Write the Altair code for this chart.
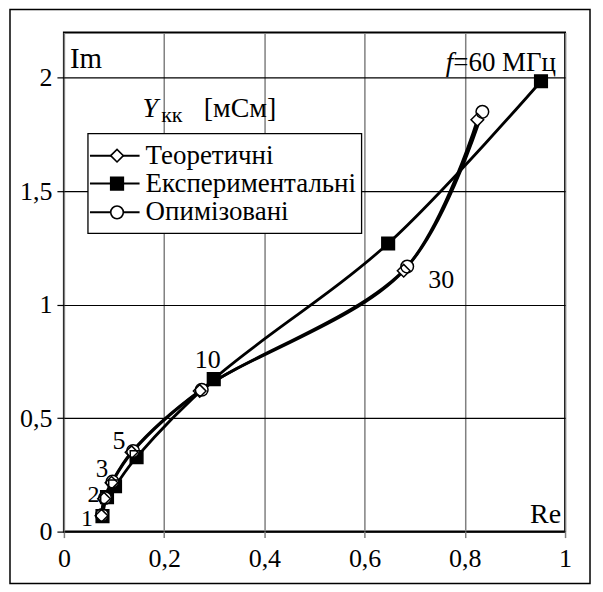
import altair as alt
import pandas as pd

# ---- data ----
freq = [1, 2, 3, 5, 10, 30, 60]
series = ["Теоретичні", "Експериментальні", "Опимізовані"]

theor_re = [0.075, 0.080, 0.095, 0.135, 0.271, 0.678, 0.825]
theor_im = [0.070, 0.145, 0.215, 0.350, 0.620, 1.150, 1.815]
exp_re = [0.077, 0.086, 0.102, 0.145, 0.299, 0.647, 0.952]
exp_im = [0.068, 0.152, 0.200, 0.328, 0.672, 1.270, 1.985]
opt_re = [0.076, 0.082, 0.097, 0.138, 0.275, 0.685, 0.835]
opt_im = [0.073, 0.148, 0.220, 0.355, 0.625, 1.168, 1.850]

x_ticks = [0, 0.2, 0.4, 0.6, 0.8, 1]
y_ticks = [0, 0.5, 1, 1.5, 2]

# point labels (frequency, MHz) and where they sit
pt_labels = ["1", "2", "3", "5", "10", "30"]
pt_label_re = [0.046, 0.059, 0.076, 0.110, 0.287, 0.753]
pt_label_im = [0.056, 0.162, 0.275, 0.400, 0.756, 1.108]
pt_label_fs = [24, 24, 25, 26, 26, 26]

# legend rows
leg_im = [1.657, 1.534, 1.407]

FONT = "Times New Roman, Liberation Serif, DejaVu Serif, serif"
FS = 26

rows = []
for s, xs_, ys_ in [(series[0], theor_re, theor_im), (series[1], exp_re, exp_im), (series[2], opt_re, opt_im)]:
    for i, (f, a, b) in enumerate(zip(freq, xs_, ys_)):
        rows.append({"series": s, "f": f, "idx": i, "re": a, "im": b})
df = pd.DataFrame(rows)

xs = alt.Scale(domain=[0, 1], nice=False, zero=False)
ys = alt.Scale(domain=[0, 2.2], nice=False, zero=False)
shape_scale = alt.Scale(domain=series, range=["diamond", "square", "circle"])
fill_scale = alt.Scale(domain=series, range=["white", "black", "white"])

label_expr = "replace(format(datum.value, '~g'), '.', ',')"

x_enc = alt.X("re:Q", scale=xs, axis=alt.Axis(
    values=x_ticks, title=None, labelExpr=label_expr, grid=True,
    gridColor="#808080", gridWidth=1.5, tickColor="#808080", tickWidth=1.5,
    tickSize=6, domain=False, labelFont=FONT, labelFontSize=FS,
    labelColor="black", labelPadding=8, labelFlush=False))
y_enc = alt.Y("im:Q", scale=ys, axis=alt.Axis(
    values=y_ticks, title=None, labelExpr=label_expr, grid=True,
    gridColor="black", gridWidth=1.2, tickColor="black", tickWidth=1.2,
    tickSize=7, domain=False, labelFont=FONT, labelFontSize=FS,
    labelColor="black", labelPadding=5, labelFlush=False))

lines = alt.Chart(df).mark_line(interpolate="catmull-rom", strokeWidth=2.8, color="black").encode(
    x=x_enc, y=y_enc, detail="series:N", order="idx:Q")

# marker bodies (white / black fill), then all outlines on top
points_fill = alt.Chart(df).mark_point(size=160, strokeWidth=0, opacity=1, fillOpacity=1).encode(
    x=alt.X("re:Q", scale=xs), y=alt.Y("im:Q", scale=ys),
    shape=alt.Shape("series:N", scale=shape_scale, legend=None),
    fill=alt.Fill("series:N", scale=fill_scale, legend=None))
points_line = alt.Chart(df).mark_point(size=160, stroke="black", strokeWidth=1.5, filled=False, opacity=1).encode(
    x=alt.X("re:Q", scale=xs), y=alt.Y("im:Q", scale=ys),
    shape=alt.Shape("series:N", scale=shape_scale, legend=None))

lab_df = pd.DataFrame({"t": pt_labels, "re": pt_label_re, "im": pt_label_im, "fs": pt_label_fs})
pt_text = alt.Chart(lab_df).mark_text(font=FONT, color="black", align="center", baseline="middle").encode(
    x=alt.X("re:Q", scale=xs), y=alt.Y("im:Q", scale=ys), text="t:N",
    size=alt.Size("fs:Q", scale=None, legend=None))

# axis names and annotations
ann_df = pd.DataFrame({
    "t": ["Im", "Re", "=60 МГц", "[мСм]"],
    "re": [0.012, 0.992, 0.982, 0.279],
    "im": [2.044, 0.040, 2.030, 1.829],
    "al": ["left", "right", "right", "left"],
    "fs": [29, 28, 27, 28],
})
ann_left = alt.Chart(ann_df[ann_df.al == "left"]).mark_text(font=FONT, color="black", align="left", baseline="alphabetic").encode(
    x=alt.X("re:Q", scale=xs), y=alt.Y("im:Q", scale=ys), text="t:N",
    size=alt.Size("fs:Q", scale=None, legend=None))
ann_right = alt.Chart(ann_df[ann_df.al == "right"]).mark_text(font=FONT, color="black", align="right", baseline="alphabetic").encode(
    x=alt.X("re:Q", scale=xs), y=alt.Y("im:Q", scale=ys), text="t:N",
    size=alt.Size("fs:Q", scale=None, legend=None))

ital_df = pd.DataFrame({"t": ["f", "Y"], "re": [0.762, 0.157], "im": [2.030, 1.829], "fs": [27, 28]})
ann_ital = alt.Chart(ital_df).mark_text(font=FONT, fontStyle="italic", color="black", align="left", baseline="alphabetic").encode(
    x=alt.X("re:Q", scale=xs), y=alt.Y("im:Q", scale=ys), text="t:N",
    size=alt.Size("fs:Q", scale=None, legend=None))
sub_df = pd.DataFrame({"t": ["кк"], "re": [0.194], "im": [1.805]})
ann_sub = alt.Chart(sub_df).mark_text(font=FONT, fontSize=22, color="black", align="left", baseline="alphabetic").encode(
    x=alt.X("re:Q", scale=xs), y=alt.Y("im:Q", scale=ys), text="t:N")

# legend drawn in data coordinates
box_df = pd.DataFrame({"x0": [0.048], "x1": [0.594], "y0": [1.754], "y1": [1.314]})
leg_box = alt.Chart(box_df).mark_rect(fill="white", stroke="black", strokeWidth=1.3).encode(
    x=alt.X("x0:Q", scale=xs), x2="x1:Q", y=alt.Y("y0:Q", scale=ys), y2="y1:Q")
leg_df = pd.DataFrame({"series": series, "im": leg_im, "x0": [0.052] * 3, "x1": [0.151] * 3,
                       "xm": [0.106] * 3, "xt": [0.163] * 3})
leg_rule = alt.Chart(leg_df).mark_rule(color="black", strokeWidth=2).encode(
    x=alt.X("x0:Q", scale=xs), x2="x1:Q", y=alt.Y("im:Q", scale=ys))
leg_pts = alt.Chart(leg_df).mark_point(size=160, stroke="black", strokeWidth=1.6, opacity=1, fillOpacity=1).encode(
    x=alt.X("xm:Q", scale=xs), y=alt.Y("im:Q", scale=ys),
    shape=alt.Shape("series:N", scale=shape_scale, legend=None),
    fill=alt.Fill("series:N", scale=fill_scale, legend=None))
leg_txt = alt.Chart(leg_df).mark_text(font=FONT, fontSize=27, color="black", align="left", baseline="middle").encode(
    x=alt.X("xt:Q", scale=xs), y=alt.Y("im:Q", scale=ys), text="series:N")

# outer frame of the figure
frame = alt.Chart(pd.DataFrame({"a": [0]})).mark_rect(fillOpacity=0, stroke="black", strokeWidth=1.5).encode(
    x=alt.value(-54), x2=alt.value(527), y=alt.value(-23), y2=alt.value(552))

chart = alt.layer(
    lines, points_fill, points_line, pt_text, ann_left, ann_right, ann_ital, ann_sub,
    leg_box, leg_rule, leg_pts, leg_txt, frame
).properties(
    width=502, height=500,
    padding={"left": 56, "top": 24, "right": 30, "bottom": 56},
    autosize=alt.AutoSizeParams(type="none"),
    background="white",
).configure_view(stroke="black", strokeWidth=2)

chart.save("out.html", embed_options={"renderer": "svg", "actions": False})
